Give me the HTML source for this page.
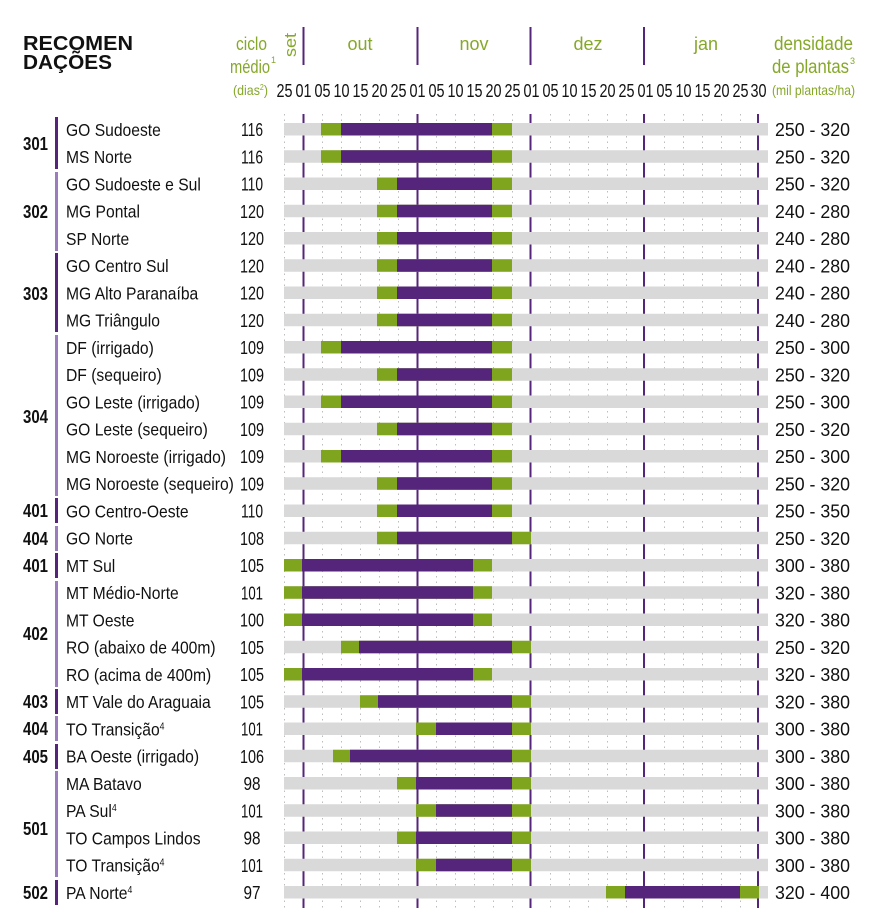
<!DOCTYPE html>
<html><head><meta charset="utf-8"><style>
html,body{margin:0;padding:0;background:#fff;}
svg{display:block;}
text{font-family:"Liberation Sans",sans-serif;}
</style></head><body>
<svg width="873" height="921" viewBox="0 0 873 921" xmlns="http://www.w3.org/2000/svg">
<!-- header -->
<text x="23" y="50" font-size="20" font-weight="bold" fill="#111" textLength="110" lengthAdjust="spacingAndGlyphs">RECOMEN</text>
<text x="23" y="69" font-size="20" font-weight="bold" fill="#111" textLength="89" lengthAdjust="spacingAndGlyphs">DAÇÕES</text>
<g fill="#86a82a">
<text x="236" y="50" font-size="18" textLength="31" lengthAdjust="spacingAndGlyphs">ciclo</text>
<text x="230" y="73" font-size="18" textLength="40" lengthAdjust="spacingAndGlyphs">médio</text>
<text x="271" y="63" font-size="9">1</text>
<text x="233" y="95" font-size="14" textLength="35" lengthAdjust="spacingAndGlyphs">(dias<tspan font-size="8" dy="-5">2</tspan><tspan dy="5">)</tspan></text>
<text transform="translate(296,57) rotate(-90)" font-size="17" textLength="24" lengthAdjust="spacingAndGlyphs">set</text>
<text x="360" y="50" font-size="18" text-anchor="middle">out</text>
<text x="474" y="50" font-size="18" text-anchor="middle">nov</text>
<text x="588" y="50" font-size="18" text-anchor="middle">dez</text>
<text x="706" y="50" font-size="18" text-anchor="middle">jan</text>
<text x="774" y="50" font-size="19" textLength="79" lengthAdjust="spacingAndGlyphs">densidade</text>
<text x="772" y="73" font-size="19" textLength="77" lengthAdjust="spacingAndGlyphs">de plantas</text>
<text x="850" y="64" font-size="9">3</text>
<text x="772" y="95" font-size="14" textLength="83" lengthAdjust="spacingAndGlyphs">(mil plantas/ha)</text>
</g>
<g stroke="#54257a" stroke-width="2">
<line x1="303.5" y1="27" x2="303.5" y2="65"/><line x1="417.5" y1="27" x2="417.5" y2="65"/>
<line x1="530.5" y1="27" x2="530.5" y2="65"/><line x1="644" y1="27" x2="644" y2="65"/>
</g>
<g font-size="18" fill="#111" text-anchor="middle">
<text x="284.5" y="97" textLength="16" lengthAdjust="spacingAndGlyphs">25</text>
<text x="303.5" y="97" textLength="16" lengthAdjust="spacingAndGlyphs">01</text>
<text x="322.5" y="97" textLength="16" lengthAdjust="spacingAndGlyphs">05</text>
<text x="341.5" y="97" textLength="16" lengthAdjust="spacingAndGlyphs">10</text>
<text x="360.5" y="97" textLength="16" lengthAdjust="spacingAndGlyphs">15</text>
<text x="379.5" y="97" textLength="16" lengthAdjust="spacingAndGlyphs">20</text>
<text x="398.5" y="97" textLength="16" lengthAdjust="spacingAndGlyphs">25</text>
<text x="417.5" y="97" textLength="16" lengthAdjust="spacingAndGlyphs">01</text>
<text x="436.5" y="97" textLength="16" lengthAdjust="spacingAndGlyphs">05</text>
<text x="455.5" y="97" textLength="16" lengthAdjust="spacingAndGlyphs">10</text>
<text x="474.5" y="97" textLength="16" lengthAdjust="spacingAndGlyphs">15</text>
<text x="493.5" y="97" textLength="16" lengthAdjust="spacingAndGlyphs">20</text>
<text x="512.5" y="97" textLength="16" lengthAdjust="spacingAndGlyphs">25</text>
<text x="531.5" y="97" textLength="16" lengthAdjust="spacingAndGlyphs">01</text>
<text x="550.5" y="97" textLength="16" lengthAdjust="spacingAndGlyphs">05</text>
<text x="569.5" y="97" textLength="16" lengthAdjust="spacingAndGlyphs">10</text>
<text x="588.5" y="97" textLength="16" lengthAdjust="spacingAndGlyphs">15</text>
<text x="607.5" y="97" textLength="16" lengthAdjust="spacingAndGlyphs">20</text>
<text x="626.5" y="97" textLength="16" lengthAdjust="spacingAndGlyphs">25</text>
<text x="645.5" y="97" textLength="16" lengthAdjust="spacingAndGlyphs">01</text>
<text x="664.5" y="97" textLength="16" lengthAdjust="spacingAndGlyphs">05</text>
<text x="683.5" y="97" textLength="16" lengthAdjust="spacingAndGlyphs">10</text>
<text x="702.5" y="97" textLength="16" lengthAdjust="spacingAndGlyphs">15</text>
<text x="721.5" y="97" textLength="16" lengthAdjust="spacingAndGlyphs">20</text>
<text x="740.5" y="97" textLength="16" lengthAdjust="spacingAndGlyphs">25</text>
<text x="758.5" y="97" textLength="16" lengthAdjust="spacingAndGlyphs">30</text>
</g>
<!-- grid dotted -->
<g stroke="#bdbdbd" stroke-width="1" stroke-dasharray="1.5,4">
<line x1="284.5" y1="114" x2="284.5" y2="908"/><line x1="322.5" y1="114" x2="322.5" y2="908"/><line x1="341.5" y1="114" x2="341.5" y2="908"/><line x1="360.5" y1="114" x2="360.5" y2="908"/><line x1="379.5" y1="114" x2="379.5" y2="908"/><line x1="398.5" y1="114" x2="398.5" y2="908"/>
<line x1="436.5" y1="114" x2="436.5" y2="908"/><line x1="455.5" y1="114" x2="455.5" y2="908"/><line x1="474.5" y1="114" x2="474.5" y2="908"/><line x1="493.5" y1="114" x2="493.5" y2="908"/><line x1="512.5" y1="114" x2="512.5" y2="908"/>
<line x1="550.5" y1="114" x2="550.5" y2="908"/><line x1="569.5" y1="114" x2="569.5" y2="908"/><line x1="588.5" y1="114" x2="588.5" y2="908"/><line x1="607.5" y1="114" x2="607.5" y2="908"/><line x1="626.5" y1="114" x2="626.5" y2="908"/>
<line x1="664.5" y1="114" x2="664.5" y2="908"/><line x1="683.5" y1="114" x2="683.5" y2="908"/><line x1="702.5" y1="114" x2="702.5" y2="908"/><line x1="721.5" y1="114" x2="721.5" y2="908"/><line x1="740.5" y1="114" x2="740.5" y2="908"/>
</g>
<g stroke="#54257a" stroke-width="2">
<line x1="303.5" y1="114" x2="303.5" y2="908"/><line x1="417.5" y1="114" x2="417.5" y2="908"/>
<line x1="530.5" y1="114" x2="530.5" y2="908"/><line x1="644" y1="114" x2="644" y2="908"/><line x1="758" y1="114" x2="758" y2="908"/>
</g>
<!-- gray bars -->
<g fill="#d9d9d9">
<rect x="284" y="123" width="484" height="12.5"/><rect x="284" y="150.25" width="484" height="12.5"/><rect x="284" y="177.5" width="484" height="12.5"/><rect x="284" y="204.75" width="484" height="12.5"/><rect x="284" y="232" width="484" height="12.5"/><rect x="284" y="259.25" width="484" height="12.5"/><rect x="284" y="286.5" width="484" height="12.5"/><rect x="284" y="313.75" width="484" height="12.5"/><rect x="284" y="341" width="484" height="12.5"/><rect x="284" y="368.25" width="484" height="12.5"/><rect x="284" y="395.5" width="484" height="12.5"/><rect x="284" y="422.75" width="484" height="12.5"/><rect x="284" y="450" width="484" height="12.5"/><rect x="284" y="477.25" width="484" height="12.5"/><rect x="284" y="504.5" width="484" height="12.5"/><rect x="284" y="531.75" width="484" height="12.5"/><rect x="284" y="559" width="484" height="12.5"/><rect x="284" y="586.25" width="484" height="12.5"/><rect x="284" y="613.5" width="484" height="12.5"/><rect x="284" y="640.75" width="484" height="12.5"/><rect x="284" y="668" width="484" height="12.5"/><rect x="284" y="695.25" width="484" height="12.5"/><rect x="284" y="722.5" width="484" height="12.5"/><rect x="284" y="749.75" width="484" height="12.5"/><rect x="284" y="777" width="484" height="12.5"/><rect x="284" y="804.25" width="484" height="12.5"/><rect x="284" y="831.5" width="484" height="12.5"/><rect x="284" y="858.75" width="484" height="12.5"/><rect x="284" y="886" width="484" height="12.5"/>
</g>
<g fill="#7fa41e">
<rect x="321" y="123" width="191" height="12.5"/>
<rect x="321" y="150.25" width="191" height="12.5"/>
<rect x="377" y="177.5" width="135" height="12.5"/>
<rect x="377" y="204.75" width="135" height="12.5"/>
<rect x="377" y="232" width="135" height="12.5"/>
<rect x="377" y="259.25" width="135" height="12.5"/>
<rect x="377" y="286.5" width="135" height="12.5"/>
<rect x="377" y="313.75" width="135" height="12.5"/>
<rect x="321" y="341" width="191" height="12.5"/>
<rect x="377" y="368.25" width="135" height="12.5"/>
<rect x="321" y="395.5" width="191" height="12.5"/>
<rect x="377" y="422.75" width="135" height="12.5"/>
<rect x="321" y="450" width="191" height="12.5"/>
<rect x="377" y="477.25" width="135" height="12.5"/>
<rect x="377" y="504.5" width="135" height="12.5"/>
<rect x="377" y="531.75" width="154" height="12.5"/>
<rect x="284" y="559" width="208" height="12.5"/>
<rect x="284" y="586.25" width="208" height="12.5"/>
<rect x="284" y="613.5" width="208" height="12.5"/>
<rect x="341" y="640.75" width="190" height="12.5"/>
<rect x="284" y="668" width="208" height="12.5"/>
<rect x="360" y="695.25" width="171" height="12.5"/>
<rect x="416" y="722.5" width="115" height="12.5"/>
<rect x="333" y="749.75" width="198" height="12.5"/>
<rect x="397" y="777" width="134" height="12.5"/>
<rect x="416" y="804.25" width="115" height="12.5"/>
<rect x="397" y="831.5" width="134" height="12.5"/>
<rect x="416" y="858.75" width="115" height="12.5"/>
<rect x="606" y="886" width="153" height="12.5"/>
</g>
<g fill="#54257a">
<rect x="341" y="123" width="151" height="12.5"/>
<rect x="341" y="150.25" width="151" height="12.5"/>
<rect x="397" y="177.5" width="95" height="12.5"/>
<rect x="397" y="204.75" width="95" height="12.5"/>
<rect x="397" y="232" width="95" height="12.5"/>
<rect x="397" y="259.25" width="95" height="12.5"/>
<rect x="397" y="286.5" width="95" height="12.5"/>
<rect x="397" y="313.75" width="95" height="12.5"/>
<rect x="341" y="341" width="151" height="12.5"/>
<rect x="397" y="368.25" width="95" height="12.5"/>
<rect x="341" y="395.5" width="151" height="12.5"/>
<rect x="397" y="422.75" width="95" height="12.5"/>
<rect x="341" y="450" width="151" height="12.5"/>
<rect x="397" y="477.25" width="95" height="12.5"/>
<rect x="397" y="504.5" width="95" height="12.5"/>
<rect x="397" y="531.75" width="115" height="12.5"/>
<rect x="302" y="559" width="171" height="12.5"/>
<rect x="302" y="586.25" width="171" height="12.5"/>
<rect x="302" y="613.5" width="171" height="12.5"/>
<rect x="359" y="640.75" width="153" height="12.5"/>
<rect x="302" y="668" width="171" height="12.5"/>
<rect x="378" y="695.25" width="134" height="12.5"/>
<rect x="436" y="722.5" width="76" height="12.5"/>
<rect x="350" y="749.75" width="162" height="12.5"/>
<rect x="416" y="777" width="96" height="12.5"/>
<rect x="436" y="804.25" width="76" height="12.5"/>
<rect x="416" y="831.5" width="96" height="12.5"/>
<rect x="436" y="858.75" width="76" height="12.5"/>
<rect x="625" y="886" width="115" height="12.5"/>
</g>
<!-- group brackets -->
<g fill="#54257a">
<rect x="55" y="117" width="3" height="52"/>
<rect x="55" y="253" width="3" height="79"/>
<rect x="55" y="498" width="3" height="25"/>
<rect x="55" y="553" width="3" height="25"/>
<rect x="55" y="689" width="3" height="25"/>
<rect x="55" y="744" width="3" height="25"/>
<rect x="55" y="880" width="3" height="25"/>
</g>
<g fill="#9a7cbf">
<rect x="55" y="172" width="3" height="79"/>
<rect x="55" y="335" width="3" height="161"/>
<rect x="55" y="526" width="3" height="25"/>
<rect x="55" y="581" width="3" height="106"/>
<rect x="55" y="716" width="3" height="25"/>
<rect x="55" y="771" width="3" height="106"/>
</g>
<g font-size="18" font-weight="bold" fill="#111">
<text x="23" y="150" textLength="25" lengthAdjust="spacingAndGlyphs">301</text>
<text x="23" y="218" textLength="25" lengthAdjust="spacingAndGlyphs">302</text>
<text x="23" y="300" textLength="25" lengthAdjust="spacingAndGlyphs">303</text>
<text x="23" y="423" textLength="25" lengthAdjust="spacingAndGlyphs">304</text>
<text x="23" y="517" textLength="25" lengthAdjust="spacingAndGlyphs">401</text>
<text x="23" y="545" textLength="25" lengthAdjust="spacingAndGlyphs">404</text>
<text x="23" y="572" textLength="25" lengthAdjust="spacingAndGlyphs">401</text>
<text x="23" y="640" textLength="25" lengthAdjust="spacingAndGlyphs">402</text>
<text x="23" y="708" textLength="25" lengthAdjust="spacingAndGlyphs">403</text>
<text x="23" y="735" textLength="25" lengthAdjust="spacingAndGlyphs">404</text>
<text x="23" y="763" textLength="25" lengthAdjust="spacingAndGlyphs">405</text>
<text x="23" y="835" textLength="25" lengthAdjust="spacingAndGlyphs">501</text>
<text x="23" y="899" textLength="25" lengthAdjust="spacingAndGlyphs">502</text>
</g>
<!-- names -->
<g transform="translate(66,0) scale(0.87,1)" font-size="18" fill="#111">
<text x="0" y="136">GO Sudoeste</text>
<text x="0" y="163.25">MS Norte</text>
<text x="0" y="190.5">GO Sudoeste e Sul</text>
<text x="0" y="217.75">MG Pontal</text>
<text x="0" y="245">SP Norte</text>
<text x="0" y="272.25">GO Centro Sul</text>
<text x="0" y="299.5">MG Alto Paranaíba</text>
<text x="0" y="326.75">MG Triângulo</text>
<text x="0" y="354">DF (irrigado)</text>
<text x="0" y="381.25">DF (sequeiro)</text>
<text x="0" y="408.5">GO Leste (irrigado)</text>
<text x="0" y="435.75">GO Leste (sequeiro)</text>
<text x="0" y="463">MG Noroeste (irrigado)</text>
<text x="0" y="490.25">MG Noroeste (sequeiro)</text>
<text x="0" y="517.5">GO Centro-Oeste</text>
<text x="0" y="544.75">GO Norte</text>
<text x="0" y="572">MT Sul</text>
<text x="0" y="599.25">MT Médio-Norte</text>
<text x="0" y="626.5">MT Oeste</text>
<text x="0" y="653.75">RO (abaixo de 400m)</text>
<text x="0" y="681">RO (acima de 400m)</text>
<text x="0" y="708.25">MT Vale do Araguaia</text>
<text x="0" y="735.5">TO Transição<tspan font-size="10" dy="-6">4</tspan></text>
<text x="0" y="762.75">BA Oeste (irrigado)</text>
<text x="0" y="790">MA Batavo</text>
<text x="0" y="817.25">PA Sul<tspan font-size="10" dy="-6">4</tspan></text>
<text x="0" y="844.5">TO Campos Lindos</text>
<text x="0" y="871.75">TO Transição<tspan font-size="10" dy="-6">4</tspan></text>
<text x="0" y="899">PA Norte<tspan font-size="10" dy="-6">4</tspan></text>
</g>
<!-- cycle -->
<g font-size="18" fill="#111" text-anchor="middle">
<text x="252" y="136" textLength="22" lengthAdjust="spacingAndGlyphs">116</text>
<text x="252" y="163.25" textLength="22" lengthAdjust="spacingAndGlyphs">116</text>
<text x="252" y="190.5" textLength="22" lengthAdjust="spacingAndGlyphs">110</text>
<text x="252" y="217.75" textLength="24" lengthAdjust="spacingAndGlyphs">120</text>
<text x="252" y="245" textLength="24" lengthAdjust="spacingAndGlyphs">120</text>
<text x="252" y="272.25" textLength="24" lengthAdjust="spacingAndGlyphs">120</text>
<text x="252" y="299.5" textLength="24" lengthAdjust="spacingAndGlyphs">120</text>
<text x="252" y="326.75" textLength="24" lengthAdjust="spacingAndGlyphs">120</text>
<text x="252" y="354" textLength="24" lengthAdjust="spacingAndGlyphs">109</text>
<text x="252" y="381.25" textLength="24" lengthAdjust="spacingAndGlyphs">109</text>
<text x="252" y="408.5" textLength="24" lengthAdjust="spacingAndGlyphs">109</text>
<text x="252" y="435.75" textLength="24" lengthAdjust="spacingAndGlyphs">109</text>
<text x="252" y="463" textLength="24" lengthAdjust="spacingAndGlyphs">109</text>
<text x="252" y="490.25" textLength="24" lengthAdjust="spacingAndGlyphs">109</text>
<text x="252" y="517.5" textLength="22" lengthAdjust="spacingAndGlyphs">110</text>
<text x="252" y="544.75" textLength="24" lengthAdjust="spacingAndGlyphs">108</text>
<text x="252" y="572" textLength="24" lengthAdjust="spacingAndGlyphs">105</text>
<text x="252" y="599.25" textLength="22" lengthAdjust="spacingAndGlyphs">101</text>
<text x="252" y="626.5" textLength="24" lengthAdjust="spacingAndGlyphs">100</text>
<text x="252" y="653.75" textLength="24" lengthAdjust="spacingAndGlyphs">105</text>
<text x="252" y="681" textLength="24" lengthAdjust="spacingAndGlyphs">105</text>
<text x="252" y="708.25" textLength="24" lengthAdjust="spacingAndGlyphs">105</text>
<text x="252" y="735.5" textLength="22" lengthAdjust="spacingAndGlyphs">101</text>
<text x="252" y="762.75" textLength="24" lengthAdjust="spacingAndGlyphs">106</text>
<text x="252" y="790" textLength="17" lengthAdjust="spacingAndGlyphs">98</text>
<text x="252" y="817.25" textLength="22" lengthAdjust="spacingAndGlyphs">101</text>
<text x="252" y="844.5" textLength="17" lengthAdjust="spacingAndGlyphs">98</text>
<text x="252" y="871.75" textLength="22" lengthAdjust="spacingAndGlyphs">101</text>
<text x="252" y="899" textLength="17" lengthAdjust="spacingAndGlyphs">97</text>
</g>
<!-- density -->
<g font-size="18" fill="#111">
<text x="775" y="136" textLength="75" lengthAdjust="spacingAndGlyphs">250 - 320</text>
<text x="775" y="163.25" textLength="75" lengthAdjust="spacingAndGlyphs">250 - 320</text>
<text x="775" y="190.5" textLength="75" lengthAdjust="spacingAndGlyphs">250 - 320</text>
<text x="775" y="217.75" textLength="75" lengthAdjust="spacingAndGlyphs">240 - 280</text>
<text x="775" y="245" textLength="75" lengthAdjust="spacingAndGlyphs">240 - 280</text>
<text x="775" y="272.25" textLength="75" lengthAdjust="spacingAndGlyphs">240 - 280</text>
<text x="775" y="299.5" textLength="75" lengthAdjust="spacingAndGlyphs">240 - 280</text>
<text x="775" y="326.75" textLength="75" lengthAdjust="spacingAndGlyphs">240 - 280</text>
<text x="775" y="354" textLength="75" lengthAdjust="spacingAndGlyphs">250 - 300</text>
<text x="775" y="381.25" textLength="75" lengthAdjust="spacingAndGlyphs">250 - 320</text>
<text x="775" y="408.5" textLength="75" lengthAdjust="spacingAndGlyphs">250 - 300</text>
<text x="775" y="435.75" textLength="75" lengthAdjust="spacingAndGlyphs">250 - 320</text>
<text x="775" y="463" textLength="75" lengthAdjust="spacingAndGlyphs">250 - 300</text>
<text x="775" y="490.25" textLength="75" lengthAdjust="spacingAndGlyphs">250 - 320</text>
<text x="775" y="517.5" textLength="75" lengthAdjust="spacingAndGlyphs">250 - 350</text>
<text x="775" y="544.75" textLength="75" lengthAdjust="spacingAndGlyphs">250 - 320</text>
<text x="775" y="572" textLength="75" lengthAdjust="spacingAndGlyphs">300 - 380</text>
<text x="775" y="599.25" textLength="75" lengthAdjust="spacingAndGlyphs">320 - 380</text>
<text x="775" y="626.5" textLength="75" lengthAdjust="spacingAndGlyphs">320 - 380</text>
<text x="775" y="653.75" textLength="75" lengthAdjust="spacingAndGlyphs">250 - 320</text>
<text x="775" y="681" textLength="75" lengthAdjust="spacingAndGlyphs">320 - 380</text>
<text x="775" y="708.25" textLength="75" lengthAdjust="spacingAndGlyphs">320 - 380</text>
<text x="775" y="735.5" textLength="75" lengthAdjust="spacingAndGlyphs">300 - 380</text>
<text x="775" y="762.75" textLength="75" lengthAdjust="spacingAndGlyphs">300 - 380</text>
<text x="775" y="790" textLength="75" lengthAdjust="spacingAndGlyphs">300 - 380</text>
<text x="775" y="817.25" textLength="75" lengthAdjust="spacingAndGlyphs">300 - 380</text>
<text x="775" y="844.5" textLength="75" lengthAdjust="spacingAndGlyphs">300 - 380</text>
<text x="775" y="871.75" textLength="75" lengthAdjust="spacingAndGlyphs">300 - 380</text>
<text x="775" y="899" textLength="75" lengthAdjust="spacingAndGlyphs">320 - 400</text>
</g>
</svg>
</body></html>
